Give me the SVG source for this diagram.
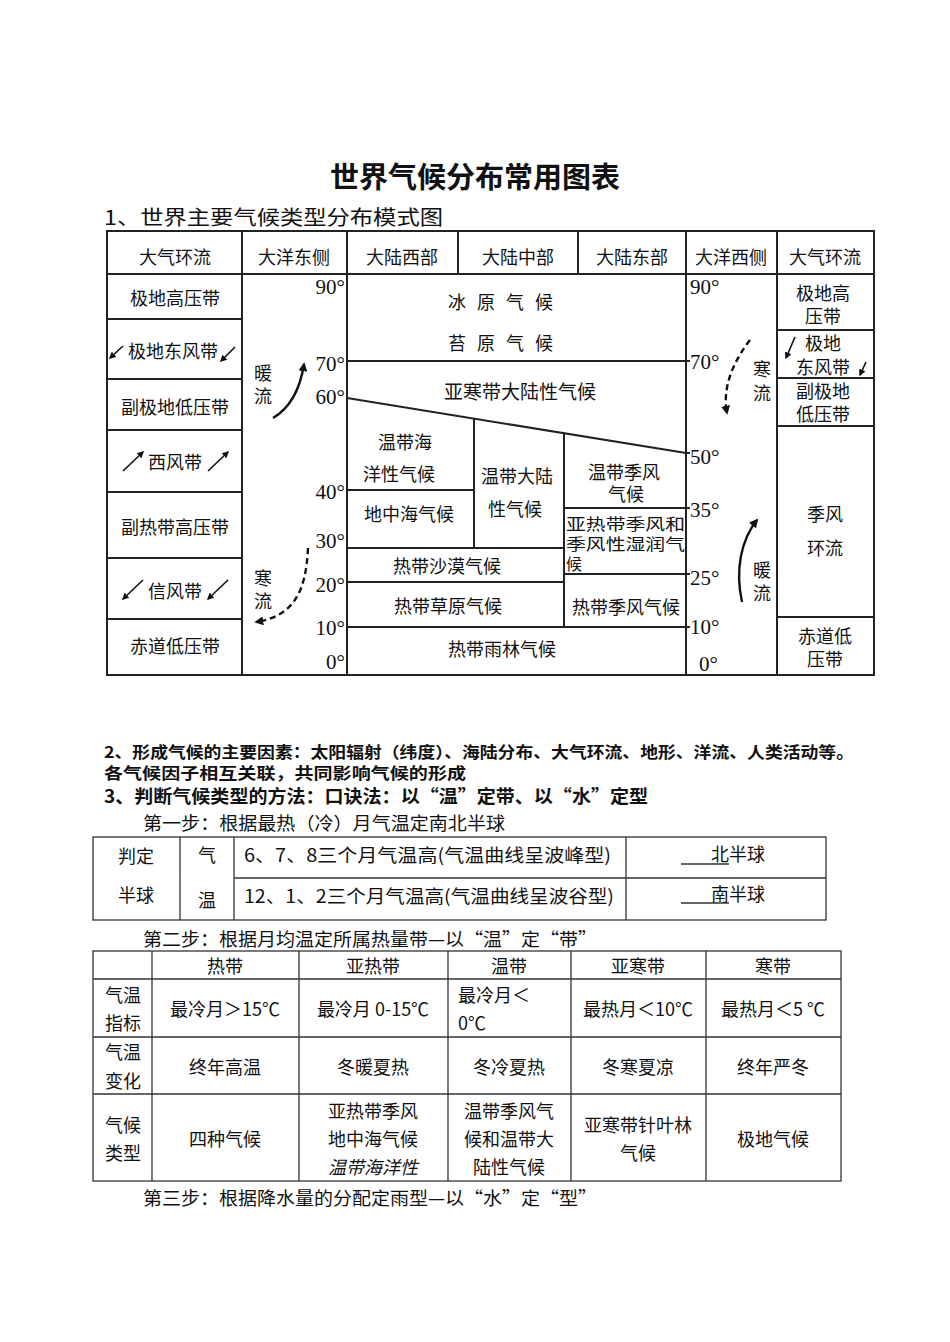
<svg xmlns="http://www.w3.org/2000/svg" width="950" height="1342" viewBox="0 0 950 1342">
<defs>
<style>
.t{font-family:"Noto Sans CJK SC","Noto Sans",sans-serif;fill:#111;dominant-baseline:central;text-anchor:middle;font-size:18px}
.s{text-anchor:start}
.b{font-weight:bold}
.lat{font-family:"Liberation Serif",serif;font-size:21px;fill:#111;dominant-baseline:central}
.r{text-anchor:end}
.ln{stroke:#222;stroke-width:2;fill:none}
.tl{stroke:#333;stroke-width:1.3;fill:none}
.arr{stroke:#111;stroke-width:1.6;fill:none;marker-end:url(#ah)}
.cur{stroke:#111;stroke-width:2.4;fill:none;marker-end:url(#ch)}
.dash{stroke-dasharray:6 4}
</style>
<marker id="ah" viewBox="0 0 10 10" refX="8" refY="5" markerWidth="7" markerHeight="7" markerUnits="userSpaceOnUse" orient="auto"><path d="M0,0 L10,5 L0,10 z" fill="#111"/></marker>
<marker id="ch" viewBox="0 0 10 10" refX="8" refY="5" markerWidth="9" markerHeight="9" markerUnits="userSpaceOnUse" orient="auto"><path d="M0,0 L10,5 L0,10 z" fill="#111"/></marker>
</defs>
<rect width="950" height="1342" fill="#fff"/>

<g id="title">
<text class="t b" x="475" y="175" style="font-size:29px">世界气候分布常用图表</text>
<text class="t s" x="104" y="216" style="font-size:20px" textLength="339" lengthAdjust="spacingAndGlyphs">1、世界主要气候类型分布模式图</text>
</g>

<g id="diagram-frame">
<rect class="ln" x="107" y="231" width="767" height="444"/>
<path class="ln" d="M107,274H874 M242,231V675 M347,231V675 M458,231V274 M578,231V274 M686,231V675 M777,231V675"/>
<path class="ln" d="M107,319H242 M107,379H242 M107,430H242 M107,492H242 M107,558H242 M107,619H242"/>
<path class="ln" d="M777,330H874 M777,378H874 M777,426H874 M777,617H874"/>
<path class="ln" d="M347,361H690 M347,398L686,453 M474,418.6V548 M564,433.2V627 M347,490H474 M347,548H564 M347,582H564 M347,627H690 M564,508H690 M564,574H690 M686,453H690"/>
</g>

<g id="header">
<text class="t" x="175" y="256">大气环流</text>
<text class="t" x="294" y="256">大洋东侧</text>
<text class="t" x="402" y="256">大陆西部</text>
<text class="t" x="518" y="256">大陆中部</text>
<text class="t" x="632" y="256">大陆东部</text>
<text class="t" x="731" y="256">大洋西侧</text>
<text class="t" x="825" y="256">大气环流</text>
</g>

<g id="left-circulation">
<text class="t" x="175" y="297">极地高压带</text>
<text class="t" x="173" y="350">极地东风带</text>
<text class="t" x="175" y="406">副极地低压带</text>
<text class="t" x="175" y="461">西风带</text>
<text class="t" x="175" y="526">副热带高压带</text>
<text class="t" x="175" y="590">信风带</text>
<text class="t" x="175" y="645">赤道低压带</text>
</g>

<g id="right-circulation">
<text class="t" x="823" y="292">极地高</text>
<text class="t" x="823" y="315">压带</text>
<text class="t" x="823" y="342">极地</text>
<text class="t" x="823" y="366">东风带</text>
<text class="t" x="823" y="390">副极地</text>
<text class="t" x="823" y="413">低压带</text>
<text class="t" x="825" y="513">季风</text>
<text class="t" x="825" y="547">环流</text>
<text class="t" x="825" y="635">赤道低</text>
<text class="t" x="825" y="658">压带</text>
</g>

<g id="lat-left">
<text class="lat r" x="345" y="287">90°</text>
<text class="lat r" x="345" y="364">70°</text>
<text class="lat r" x="345" y="397">60°</text>
<text class="lat r" x="345" y="492">40°</text>
<text class="lat r" x="345" y="541">30°</text>
<text class="lat r" x="345" y="585">20°</text>
<text class="lat r" x="345" y="628">10°</text>
<text class="lat r" x="345" y="662">0°</text>
</g>

<g id="lat-right">
<text class="lat" x="690" y="287">90°</text>
<text class="lat" x="690" y="362">70°</text>
<text class="lat" x="690" y="457">50°</text>
<text class="lat" x="690" y="510">35°</text>
<text class="lat" x="690" y="578">25°</text>
<text class="lat" x="690" y="627">10°</text>
<text class="lat" x="699" y="664">0°</text>
</g>

<g id="climates">
<text class="t s" x="448" y="301" letter-spacing="11">冰原气候</text>
<text class="t s" x="448" y="342" letter-spacing="11">苔原气候</text>
<text class="t" x="520" y="390" style="font-size:19px">亚寒带大陆性气候</text>
<text class="t" x="405" y="441">温带海</text>
<text class="t" x="399" y="473">洋性气候</text>
<text class="t" x="409" y="513">地中海气候</text>
<text class="t" x="517" y="475">温带大陆</text>
<text class="t" x="515" y="508">性气候</text>
<text class="t" x="624" y="471">温带季风</text>
<text class="t" x="626" y="493">气候</text>
<text class="t s" x="566" y="523" style="font-size:16px" textLength="119" lengthAdjust="spacingAndGlyphs">亚热带季风和</text>
<text class="t s" x="566" y="543" style="font-size:16px" textLength="119" lengthAdjust="spacingAndGlyphs">季风性湿润气</text>
<text class="t s" x="566" y="563" style="font-size:16px">候</text>
<text class="t" x="447" y="565">热带沙漠气候</text>
<text class="t" x="448" y="605">热带草原气候</text>
<text class="t" x="626" y="606">热带季风气候</text>
<text class="t" x="502" y="648">热带雨林气候</text>
</g>

<g id="currents">
<text class="t" x="263" y="372">暖</text>
<text class="t" x="263" y="395">流</text>
<path class="cur" d="M273,418 C290,408 300,390 304,364"/>
<text class="t" x="263" y="577">寒</text>
<text class="t" x="263" y="600">流</text>
<path class="cur dash" d="M308,548 C306,590 295,616 256,622"/>
<text class="t" x="762" y="368">寒</text>
<text class="t" x="762" y="392">流</text>
<path class="cur dash" d="M750,340 C733,362 722,388 727,413"/>
<text class="t" x="762" y="569">暖</text>
<text class="t" x="762" y="592">流</text>
<path class="cur" d="M742,602 C735,570 741,540 757,520"/>
</g>

<g id="wind-arrows">
<line class="arr" x1="123" y1="346" x2="110" y2="358"/>
<line class="arr" x1="235" y1="347" x2="221" y2="361"/>
<line class="arr" x1="123" y1="471" x2="143" y2="452"/>
<line class="arr" x1="208" y1="471" x2="228" y2="452"/>
<line class="arr" x1="143" y1="580" x2="123" y2="599"/>
<line class="arr" x1="228" y1="580" x2="208" y2="599"/>
<line class="arr" x1="795" y1="337" x2="786" y2="358"/>
<line class="arr" x1="866" y1="362" x2="860" y2="375"/>
</g>

<g id="notes">
<text class="t s b" x="104" y="751" textLength="750" lengthAdjust="spacingAndGlyphs" style="font-size:16px">2、形成气候的主要因素：太阳辐射（纬度）、海陆分布、大气环流、地形、洋流、人类活动等。</text>
<text class="t s b" x="104" y="772" textLength="362" lengthAdjust="spacingAndGlyphs" style="font-size:16px">各气候因子相互关联，共同影响气候的形成</text>
<text class="t s b" x="104" y="795" textLength="544" lengthAdjust="spacingAndGlyphs" style="font-size:18px">3、判断气候类型的方法：口诀法：以“温”定带、以“水”定型</text>
<text class="t s" x="143" y="822" textLength="362" lengthAdjust="spacingAndGlyphs" style="font-size:18px">第一步：根据最热（冷）月气温定南北半球</text>
</g>

<g id="table-hemisphere">
<rect class="tl" x="93" y="837" width="733" height="83"/>
<path class="tl" d="M180,837V920 M234,837V920 M626,837V920 M234,878H826"/>
<text class="t" x="136" y="855">判定</text>
<text class="t" x="136" y="894">半球</text>
<text class="t" x="207" y="854">气</text>
<text class="t" x="207" y="899">温</text>
<text class="t s" x="244" y="854" textLength="367" lengthAdjust="spacingAndGlyphs">6、7、8三个月气温高(气温曲线呈波峰型)</text>
<text class="t s" x="244" y="895" textLength="370" lengthAdjust="spacingAndGlyphs">12、1、2三个月气温高(气温曲线呈波谷型)</text>
<text class="t s" x="711" y="853">北半球</text>
<text class="t s" x="711" y="893">南半球</text>
<path class="tl" d="M681,864H729 M681,903H729"/>
</g>

<g id="step2">
<text class="t s" x="143" y="938" textLength="454" lengthAdjust="spacingAndGlyphs">第二步：根据月均温定所属热量带—以“温”定“带”</text>
</g>

<g id="table-zones">
<rect class="tl" x="93" y="951" width="748" height="230"/>
<path class="tl" d="M152,951V1181 M299,951V1181 M448,951V1181 M571,951V1181 M706,951V1181 M93,979H841 M93,1037H841 M93,1094H841"/>
<text class="t" x="225" y="965">热带</text>
<text class="t" x="373" y="965">亚热带</text>
<text class="t" x="509" y="965">温带</text>
<text class="t" x="638" y="965">亚寒带</text>
<text class="t" x="773" y="965">寒带</text>
<text class="t" x="123" y="994">气温</text>
<text class="t" x="123" y="1022">指标</text>
<text class="t" x="225" y="1008">最冷月＞15℃</text>
<text class="t" x="373" y="1008">最冷月 0-15℃</text>
<text class="t s" x="458" y="994">最冷月＜</text>
<text class="t s" x="458" y="1022">0℃</text>
<text class="t" x="638" y="1008">最热月＜10℃</text>
<text class="t" x="773" y="1008">最热月＜5 ℃</text>
<text class="t" x="123" y="1051">气温</text>
<text class="t" x="123" y="1080">变化</text>
<text class="t" x="225" y="1066">终年高温</text>
<text class="t" x="373" y="1066">冬暖夏热</text>
<text class="t" x="509" y="1066">冬冷夏热</text>
<text class="t" x="638" y="1066">冬寒夏凉</text>
<text class="t" x="773" y="1066">终年严冬</text>
<text class="t" x="123" y="1124">气候</text>
<text class="t" x="123" y="1152">类型</text>
<text class="t" x="225" y="1138">四种气候</text>
<text class="t" x="373" y="1110">亚热带季风</text>
<text class="t" x="373" y="1138">地中海气候</text>
<text class="t" x="373" y="1166" font-style="italic">温带海洋性</text>
<text class="t" x="509" y="1110">温带季风气</text>
<text class="t" x="509" y="1138">候和温带大</text>
<text class="t" x="509" y="1166">陆性气候</text>
<text class="t" x="638" y="1124">亚寒带针叶林</text>
<text class="t" x="638" y="1152">气候</text>
<text class="t" x="773" y="1138">极地气候</text>
</g>

<g id="step3">
<text class="t s" x="143" y="1197" textLength="454" lengthAdjust="spacingAndGlyphs">第三步：根据降水量的分配定雨型—以“水”定“型”</text>
</g>
</svg>
